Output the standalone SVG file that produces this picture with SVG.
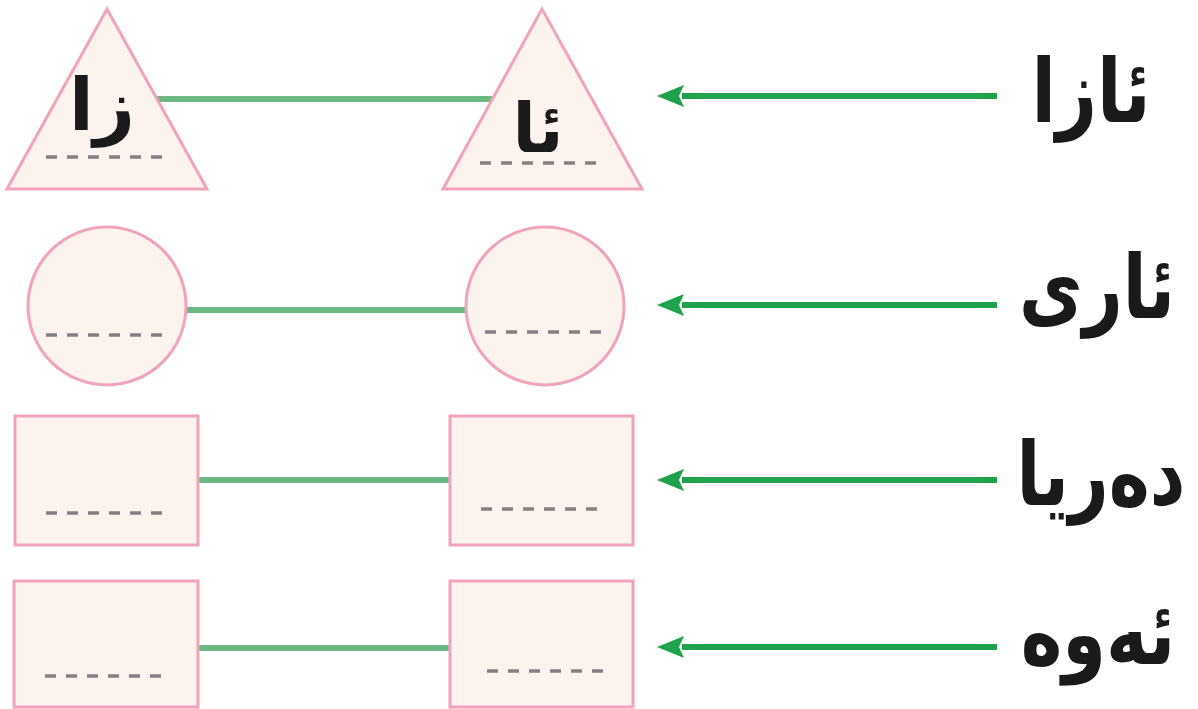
<svg xmlns="http://www.w3.org/2000/svg" width="1198" height="709" viewBox="0 0 1198 709">
<defs>
<style>
.shape{fill:#fdf3ee;stroke:#f0a3bb;stroke-width:3}
.dash{stroke:#858080;stroke-width:3.5;stroke-dasharray:11 10}
.conn{stroke:#6cb884;stroke-width:6;fill:none}
.arr{stroke:#1ea34c;stroke-width:6;fill:none}
.head{fill:#1ea34c}
.lbl{font-family:"DejaVu Sans",sans-serif;font-weight:bold;fill:#1a1a1a;text-anchor:middle}
</style>
</defs>
<rect width="1198" height="709" fill="#ffffff"/>
<g id="connectors">
<line class="conn" x1="157" y1="99" x2="492" y2="99"/>
<line class="conn" x1="185" y1="310" x2="467" y2="310"/>
<line class="conn" x1="198" y1="480" x2="450" y2="480"/>
<line class="conn" x1="198" y1="648" x2="450" y2="648"/>
<line class="arr" x1="997" y1="96" x2="682" y2="96"/>
<polygon class="head" points="657,96 684,85 679,96 684,107"/>
<line class="arr" x1="997" y1="305" x2="682" y2="305"/>
<polygon class="head" points="657,305 684,294 679,305 684,316"/>
<line class="arr" x1="997" y1="480" x2="682" y2="480"/>
<polygon class="head" points="657,480 684,469 679,480 684,491"/>
<line class="arr" x1="997" y1="647" x2="682" y2="647"/>
<polygon class="head" points="657,647 684,636 679,647 684,658"/>
</g>
<g id="tri-left">
<polygon class="shape" points="107,9 7,189 207,189"/>
<text class="lbl" x="102" y="130" font-size="72">زا</text>
<line class="dash" x1="46" y1="157" x2="167" y2="157"/>
</g>
<g id="tri-right">
<polygon class="shape" points="542,9 443,189 642,189"/>
<text class="lbl" x="538" y="152" font-size="68">ئا</text>
<line class="dash" x1="480" y1="163" x2="602" y2="163"/>
</g>
<g id="circle-left">
<ellipse class="shape" cx="107" cy="306" rx="79" ry="79"/>
<line class="dash" x1="46" y1="335" x2="167" y2="335"/>
</g>
<g id="circle-right">
<ellipse class="shape" cx="545" cy="306" rx="79" ry="79"/>
<line class="dash" x1="485" y1="332" x2="606" y2="332"/>
</g>
<g id="rect-left-3">
<rect class="shape" x="15" y="416" width="183" height="129"/>
<line class="dash" x1="46" y1="513" x2="167" y2="513"/>
</g>
<g id="rect-right-3">
<rect class="shape" x="450" y="416" width="183" height="129"/>
<line class="dash" x1="481" y1="509" x2="602" y2="509"/>
</g>
<g id="rect-left-4">
<rect class="shape" x="14" y="581" width="184" height="126"/>
<line class="dash" x1="45" y1="676" x2="167" y2="676"/>
</g>
<g id="rect-right-4">
<rect class="shape" x="450" y="581" width="183" height="126"/>
<line class="dash" x1="487" y1="671" x2="609" y2="671"/>
</g>
<g id="label-1"><text class="lbl" transform="translate(1091,122) scale(0.81,1)" font-size="88">ئازا</text></g>
<g id="label-2"><text class="lbl" transform="translate(1097,318) scale(0.79,1)" font-size="88">ئاری</text></g>
<g id="label-3"><text class="lbl" transform="translate(1101,505) scale(0.79,1)" font-size="88">دەریا</text></g>
<g id="label-4"><text class="lbl" transform="translate(1098,664) scale(0.8,1)" font-size="88">ئەوە</text></g>
</svg>
